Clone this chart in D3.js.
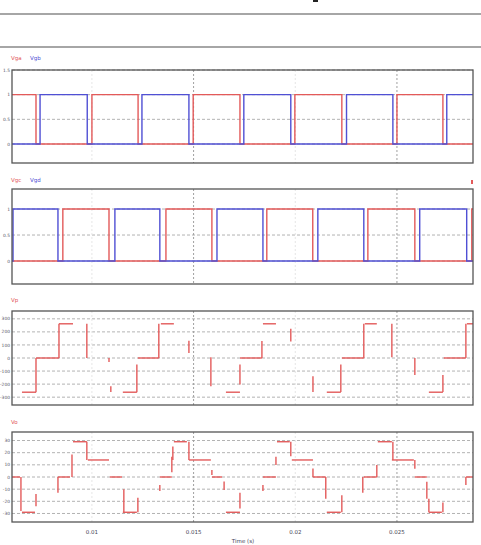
<!DOCTYPE html>
<html>
<head>
<meta charset="utf-8">
<script src="https://cdn.jsdelivr.net/npm/d3@7.9.0/dist/d3.min.js"></script>
<style>
  body { margin: 0; background: #fff; }
  svg { display: block; font-family: "DejaVu Sans", sans-serif; }
</style>
</head>
<body>
<svg id="chart" width="481" height="545"></svg>
<script>
// time axis (ms)
const timeDomain = [6.07, 28.74];
const timeTicks = [10, 15, 20, 25];
const timeTickLabels = ['0.01', '0.015', '0.02', '0.025'];

// gate signals: switching instants (ms) and level after each instant
const vgaT = [6.07, 7.25, 10.0, 12.27, 14.98, 17.28, 19.98, 22.29, 25.0, 27.26];
const vgaV = [1, 0, 1, 0, 1, 0, 1, 0, 1, 0];
const vgbT = [6.07, 7.45, 9.77, 12.46, 14.77, 17.47, 19.78, 22.52, 24.8, 27.45];
const vgbV = [0, 1, 0, 1, 0, 1, 0, 1, 0, 1];
const vgcT = [6.07, 8.57, 10.84, 13.64, 15.9, 18.6, 20.86, 23.57, 25.88, 28.68];
const vgcV = [0, 1, 0, 1, 0, 1, 0, 1, 0, 1];
const vgdT = [6.07, 6.12, 8.33, 11.13, 13.34, 16.15, 18.41, 21.11, 23.37, 26.12, 28.43];
const vgdV = [0, 1, 0, 1, 0, 1, 0, 1, 0, 1, 0];

// Vp: visible flat pieces [t0, t1, level] and edges [t, from, to]
const vpFlat = [
  [6.56, 7.25, -262], [7.25, 8.38, 0], [8.38, 9.07, 262],
  [11.52, 12.21, -262], [12.26, 13.29, 0], [13.39, 14.03, 262],
  [16.59, 17.28, -262], [17.28, 18.36, 0], [18.41, 19.05, 262],
  [21.55, 22.24, -262], [22.29, 23.37, 0], [23.42, 24.01, 262],
  [26.57, 27.26, -262], [27.3, 28.39, 0], [28.44, 28.74, 262]
];
const vpEdge = [
  [7.25, -262, 0], [8.38, 0, 262], [9.75, 262, 0], [10.84, 0, -30], [10.93, -217, -260],
  [12.21, -262, -50], [13.29, 0, 262], [14.77, 132, 38], [15.85, 5, -217],
  [17.28, -50, -203], [18.36, 0, 130], [19.78, 224, 127], [20.87, -140, -260],
  [22.24, -260, -50], [23.37, 0, 262], [24.75, 262, 5], [25.88, 0, -130],
  [27.26, -260, -130], [28.39, 0, 262]
];

// Vo: visible flat pieces and edges
const voFlat = [
  [6.07, 6.46, 0], [6.56, 7.2, -29], [8.33, 8.92, 0], [9.07, 9.75, 29], [9.8, 10.84, 14],
  [10.88, 11.48, 0], [11.52, 12.21, -29], [13.34, 13.93, 0], [14.03, 14.67, 29],
  [14.77, 15.85, 14], [15.9, 16.4, 0], [16.59, 17.28, -29], [18.41, 19.05, 0],
  [19.1, 19.73, 29], [19.83, 20.87, 14], [20.87, 21.5, 0], [21.55, 22.24, -29],
  [23.37, 24.01, 0], [24.06, 24.75, 29], [24.75, 25.83, 14], [25.88, 26.47, 0],
  [26.57, 27.21, -29], [28.39, 28.74, 0]
];
const voEdge = [
  [6.51, 0, -28], [7.25, -14, -24], [8.33, 0, -13], [9.02, 0, 18.6], [9.75, 29, 14],
  [11.57, -10, -29], [12.26, -29, -17], [13.34, -11.5, -6.6], [13.93, 4, 16.6],
  [13.98, 25, 14], [14.77, 29, 14], [15.9, 5.7, 1.6], [16.5, -3.8, -10.7],
  [17.28, -13, -26], [18.41, -6.6, -11.5], [19.05, 16.6, 9.8], [19.78, 29, 17],
  [20.87, 7, 0], [21.5, 0, -17.8], [22.29, -29, -15], [23.32, -13, 0],
  [24.01, 9.8, 0], [24.8, 29, 14], [25.88, 14, 6.8], [26.47, -4, -17.8],
  [26.57, -17.8, -29], [27.26, -29, -21], [28.39, -6.6, 0]
];

const panelLabels = [['Vga', 'Vgb'], ['Vgc', 'Vgd'], ['Vp'], ['Vo']];
const panelTicks = [[0, 0.5, 1, 1.5], [0, 0.5, 1], [-300, -200, -100, 0, 100, 200, 300], [-30, -20, -10, 0, 10, 20, 30]];

const RED = '#e35a5a', BLUE = '#5050d4';
const svg = d3.select('#chart');
const left = 12, right = 473;
const x = d3.scaleLinear().domain(timeDomain).range([left, right]);

// header rules
svg.append('line').attr('x1', 0).attr('x2', 481).attr('y1', 14).attr('y2', 14).attr('stroke', '#888').attr('stroke-width', 1.5);
svg.append('line').attr('x1', 0).attr('x2', 481).attr('y1', 47).attr('y2', 47).attr('stroke', '#888').attr('stroke-width', 1.5);
svg.append('rect').attr('x', 313).attr('y', 0).attr('width', 5).attr('height', 2).attr('fill', '#222');

const panels = [
  { top: 70, bottom: 163, domain: [-0.385, 1.5], labelY: 60 },
  { top: 189, bottom: 284, domain: [-0.442, 1.385], labelY: 182 },
  { top: 311, bottom: 405, domain: [-360, 360], labelY: 302 },
  { top: 432, bottom: 522, domain: [-37, 37], labelY: 424 }
];

panels.forEach((p, i) => {
  p.y = d3.scaleLinear().domain(p.domain).range([p.bottom, p.top]);
  const g = svg.append('g');

  // grid
  g.selectAll('.hg').data(panelTicks[i]).join('line')
    .attr('x1', left).attr('x2', right)
    .attr('y1', d => p.y(d)).attr('y2', d => p.y(d))
    .attr('stroke', '#a0a0a0').attr('stroke-width', 0.8).attr('stroke-dasharray', '3,2');
  g.selectAll('.vg').data(timeTicks).join('line')
    .attr('x1', d => x(d)).attr('x2', d => x(d))
    .attr('y1', p.top).attr('y2', p.bottom)
    .attr('stroke', (d, k) => k % 2 ? '#a0a0a0' : '#e6e6e6')
    .attr('stroke-width', 1).attr('stroke-dasharray', '2,2');

  // y tick labels
  g.selectAll('.yt').data(panelTicks[i]).join('text')
    .attr('x', 10).attr('y', d => p.y(d) + 1.6)
    .attr('text-anchor', 'end').attr('font-size', 4.4).attr('fill', '#556')
    .text(d => d);

  // legend
  panelLabels[i].forEach((lab, k) => {
    g.append('text').attr('x', 11 + k * 19).attr('y', p.labelY)
      .attr('font-size', 5.5).attr('fill', k === 0 ? RED : BLUE).text(lab);
  });
});

// step waveforms for gate panels
function stepLine(p, ts, vs, color) {
  const pts = ts.map((t, k) => [t, vs[k]]);
  pts.push([timeDomain[1], vs[vs.length - 1]]);
  const line = d3.line().x(d => x(d[0])).y(d => p.y(d[1])).curve(d3.curveStepAfter);
  svg.append('path').datum(pts).attr('d', line)
    .attr('fill', 'none').attr('stroke', color).attr('stroke-width', 1.4);
}
stepLine(panels[0], vgaT, vgaV, RED);
stepLine(panels[0], vgbT, vgbV, BLUE);
stepLine(panels[1], vgcT, vgcV, RED);
stepLine(panels[1], vgdT, vgdV, BLUE);

// pieces for output panels
function pieces(p, flat, edge) {
  const g = svg.append('g').attr('stroke', RED).attr('stroke-width', 1.4);
  g.selectAll('.f').data(flat).join('line')
    .attr('x1', d => x(d[0])).attr('x2', d => x(d[1]))
    .attr('y1', d => p.y(d[2])).attr('y2', d => p.y(d[2]));
  g.selectAll('.e').data(edge).join('line')
    .attr('x1', d => x(d[0])).attr('x2', d => x(d[0]))
    .attr('y1', d => p.y(d[1])).attr('y2', d => p.y(d[2]));
}
pieces(panels[2], vpFlat, vpEdge);
pieces(panels[3], voFlat, voEdge);

// frames
panels.forEach(p => {
  svg.append('rect').attr('x', left).attr('y', p.top)
    .attr('width', right - left).attr('height', p.bottom - p.top)
    .attr('fill', 'none').attr('stroke', '#555').attr('stroke-width', 1.3);
});

// small marker on panel 2
svg.append('rect').attr('x', 471).attr('y', 180).attr('width', 2).attr('height', 4).attr('fill', RED);

// x labels under last panel
svg.selectAll('.xt').data(timeTicks).join('text')
  .attr('x', d => x(d)).attr('y', 534)
  .attr('text-anchor', 'middle').attr('font-size', 5.5).attr('fill', '#445')
  .text((d, k) => timeTickLabels[k]);
svg.append('text').attr('x', 243).attr('y', 543).attr('text-anchor', 'middle')
  .attr('font-size', 5.5).attr('fill', '#445').text('Time (s)');
</script>
</body>
</html>
